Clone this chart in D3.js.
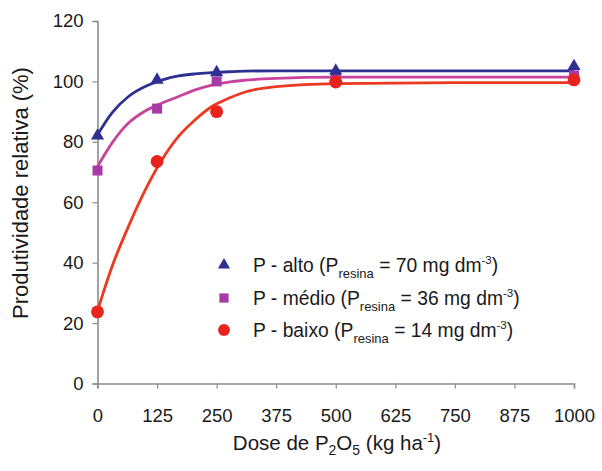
<!DOCTYPE html>
<html>
<head>
<meta charset="utf-8">
<script src="https://cdn.jsdelivr.net/npm/d3@7"></script>
<style>
  html, body { margin: 0; padding: 0; background: #fff; }
  svg { display: block; font-family: "Liberation Sans", Arial, sans-serif; }
</style>
</head>
<body>
<svg id="chart" width="602" height="471"></svg>
<script>
// Doses of P2O5 (kg/ha) and relative yield (%) for each soil P level
const doses = [0, 125, 250, 500, 1000];
const alto  = [82, 100.5, 103, 103.5, 105];
const medio = [70.5, 91, 100, 101.5, 102];
const baixo = [23.7, 73.5, 90, 99.8, 100.5];

// Fitted response curves, read at these doses
const curveDoses = [0, 30, 65, 100, 135, 170, 205, 240, 275, 310, 375, 500, 750, 1000];
const altoCurve  = [82.3, 89.5, 95, 98.3, 100.4, 101.8, 102.5, 102.9, 103.2, 103.4, 103.5, 103.5, 103.5, 103.5];
const medioCurve = [71.8, 79.5, 86.2, 90.2, 92.8, 95, 97.2, 98.8, 99.8, 100.4, 101, 101.4, 101.4, 101.4];
const baixoCurve = [24, 38.5, 52, 64, 74, 81.8, 87.3, 91.7, 94.4, 96.5, 98.3, 99.3, 99.6, 99.6];

const xTicks = [0, 125, 250, 375, 500, 625, 750, 875, 1000];
const yTicks = [0, 20, 40, 60, 80, 100, 120];

const seriesNames = ["P - alto", "P - médio", "P - baixo"];
const resinaValues = ["70", "36", "14"];

const svg = d3.select("#chart");

const x = d3.scaleLinear().domain([0, 1000]).range([97.5, 574]);
const y = d3.scaleLinear().domain([0, 120]).range([383.5, 21]);

const axisColor = "#8c8c8c";

// Y axis
const yAxis = svg.append("g")
  .attr("transform", `translate(${x(0)},0)`)
  .call(d3.axisLeft(y).tickValues(yTicks).tickFormat(d3.format("d")).tickSize(5).tickPadding(9));
// X axis
const xAxis = svg.append("g")
  .attr("transform", `translate(0,${y(0)})`)
  .call(d3.axisBottom(x).tickValues(xTicks).tickFormat(d3.format("d")).tickSize(5).tickPadding(20));

[yAxis, xAxis].forEach(g => {
  g.select(".domain").attr("stroke", axisColor).attr("stroke-width", 1.6);
  g.selectAll(".tick line").attr("stroke", axisColor).attr("stroke-width", 1.2);
  g.selectAll(".tick text")
    .attr("fill", "#1a1a1a")
    .style("font-size", "18.5px")
    .style("font-family", "'Liberation Sans', Arial, sans-serif");
});

// Axis titles
svg.append("text")
  .attr("transform", `translate(28,193) rotate(-90)`)
  .attr("text-anchor", "middle")
  .attr("fill", "#1a1a1a")
  .style("font-size", "22px")
  .text("Produtividade relativa (%)");

const xt = svg.append("text")
  .attr("x", 337).attr("y", 450)
  .attr("text-anchor", "middle")
  .attr("fill", "#1a1a1a")
  .style("font-size", "20.5px");
xt.append("tspan").text("Dose de P");
xt.append("tspan").attr("dy", 5).style("font-size", "14px").text("2");
xt.append("tspan").attr("dy", -5).text("O");
xt.append("tspan").attr("dy", 5).style("font-size", "14px").text("5");
xt.append("tspan").attr("dy", -5).text(" (kg ha");
xt.append("tspan").attr("dy", -8).style("font-size", "13px").text("-1");
xt.append("tspan").attr("dy", 8).text(")");

// Series styling
const series = [
  { name: seriesNames[0], vals: alto,  curve: altoCurve,  line: "#2e3192", fill: "#2e3192", sym: d3.symbolTriangle, size: 75 },
  { name: seriesNames[1], vals: medio, curve: medioCurve, line: "#c8449c", fill: "#a83aa8", sym: d3.symbolSquare,   size: 100 },
  { name: seriesNames[2], vals: baixo, curve: baixoCurve, line: "#ec3a22", fill: "#e8231e", sym: d3.symbolCircle,   size: 130 }
];

const line = d3.line()
  .x(d => x(d[0]))
  .y(d => y(d[1]))
  .curve(d3.curveMonotoneX);

// Curves
series.forEach(s => {
  svg.append("path")
    .datum(curveDoses.map((d, i) => [d, s.curve[i]]))
    .attr("fill", "none")
    .attr("stroke", s.line)
    .attr("stroke-width", 2.8)
    .attr("d", line);
});

// Markers (médio first, then alto, then baixo on top)
[1, 0, 2].forEach(k => {
  const s = series[k];
  svg.append("g").selectAll("path")
    .data(doses.map((d, i) => [d, s.vals[i]]))
    .join("path")
    .attr("transform", d => `translate(${x(d[0])},${y(d[1])})`)
    .attr("d", d3.symbol().type(s.sym).size(s.size))
    .attr("fill", s.fill);
});

// Legend
const legendY = [265, 298, 330];
series.forEach((s, i) => {
  const g = svg.append("g").attr("transform", `translate(224,${legendY[i]})`);
  g.append("path")
    .attr("d", d3.symbol().type(s.sym).size(s.size * 0.85))
    .attr("fill", s.fill);
  const t = g.append("text")
    .attr("x", 29).attr("y", 6.5)
    .attr("fill", "#1a1a1a")
    .style("font-size", "19.3px");
  t.append("tspan").text(`${s.name} (P`);
  t.append("tspan").attr("dy", 6).style("font-size", "13px").text("resina");
  t.append("tspan").attr("dy", -6).text(` = ${resinaValues[i]} mg dm`);
  t.append("tspan").attr("dy", -8).style("font-size", "11.5px").text("-3");
  t.append("tspan").attr("dy", 8).text(")");
});
</script>
</body>
</html>
